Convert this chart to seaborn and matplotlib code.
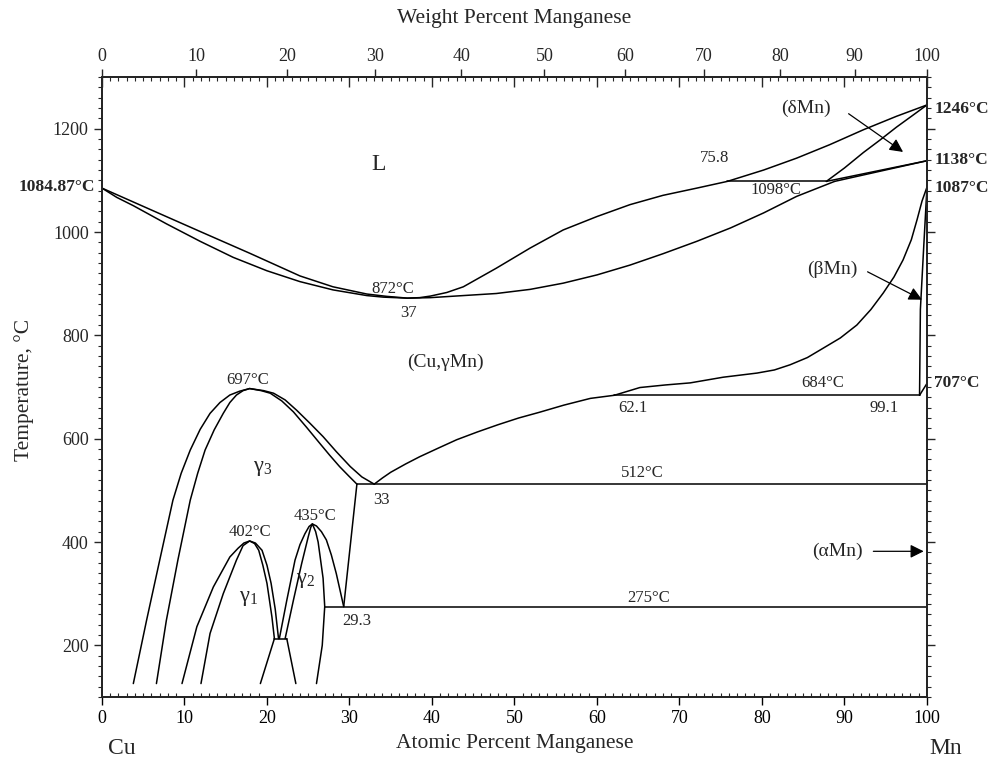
import numpy as np
import pandas as pd
import matplotlib
matplotlib.use('Agg')
import matplotlib.pyplot as plt
from matplotlib.ticker import MultipleLocator, NullFormatter
import seaborn as sns

# ---------------------------------------------------------------
# Cu-Mn phase boundaries (at.% Mn, deg C)
# ---------------------------------------------------------------
liquidus_x = [0, 5.8, 11.9, 17.9, 24, 28, 32.1, 34.5, 36, 37, 38.5, 39.8, 41.8, 43.8, 47.8,
              51.9, 55.9, 60, 64, 68, 72.1, 75.8, 80.2, 84.2, 88.2, 92.3, 96.3, 100]
liquidus_t = [1085, 1044, 1001, 959, 915, 894, 880, 875.5, 873.5, 872, 873, 876, 883, 894, 930,
              969, 1004, 1030, 1053, 1071, 1085, 1098, 1120, 1143, 1169, 1198, 1224, 1246]

solidus_x = [0, 1.8, 3.8, 7.8, 11.9, 15.9, 20, 24, 28, 32.1, 34.1, 37, 39.8, 43.8, 47.8,
             51.9, 55.9, 60, 64, 68, 72.1, 76.2, 80.2, 84.2, 88.8]
solidus_t = [1085, 1067, 1051, 1016, 982, 951, 925, 904, 888, 877, 874, 872, 873, 877, 881,
             889, 901, 917, 936, 958, 982, 1008, 1037, 1069, 1098]

delta_sol_x = [87.8, 90, 92.3, 94.3, 96.3, 98.2, 100]
delta_sol_t = [1098, 1124, 1154, 1178, 1203, 1225, 1246]
gd_upper_x = [87.8, 100]
gd_upper_t = [1098, 1138]
gd_lower_x = [88.8, 100]
gd_lower_t = [1098, 1138]
perit_x = [75.8, 87.8]
perit_t = [1098, 1098]

beta_gam_x = [62.1, 65.2, 68.3, 71.3, 75.3, 79.4, 81.5, 83.4, 85.5, 87.4, 89.5, 91.5,
              93.2, 94.7, 96.0, 97.1, 98.1, 98.8, 99.4, 100]
beta_gam_t = [684, 699, 704, 708, 719, 727, 733, 743, 757, 775, 795, 820,
              850, 882, 913, 946, 985, 1024, 1060, 1087]
beta_sol_x = [100, 99.6, 99.2, 99.1]
beta_sol_t = [1087, 970, 850, 684]
beta_alpha_x = [99.1, 100]
beta_alpha_t = [684, 707]
eut684_x = [62.1, 99.1]
eut684_t = [684, 684]

solvus_x = [33, 34, 35, 36.8, 38.5, 40.8, 43, 45.5, 48, 50.5, 53, 56, 59.2, 62.1]
solvus_t = [512, 524, 535, 551, 565, 582, 598, 613, 627, 640, 651, 665, 678, 684]
line512_x = [30.9, 100]
line512_t = [512, 512]
line275_x = [27.0, 100]
line275_t = [275, 275]
link_x = [30.9, 29.3]
link_t = [512, 275]

g3_outer_x = [3.8, 5.4, 7.0, 8.6, 9.6, 10.7, 11.9, 13.1, 14.3, 15.5, 16.7, 17.9,
              19.6, 20.8, 22.2, 23.6, 25.2, 26.8, 28.4, 30.1, 31.5, 33]
g3_outer_t = [126, 248, 365, 481, 533, 578, 618, 649, 670, 684.5, 692, 697,
              693, 688, 675, 655, 630, 604, 575, 546, 526, 512]
g3_inner_x = [6.6, 7.8, 9.2, 10.7, 11.6, 12.5, 13.6, 14.7, 15.5, 16.3, 17.1, 17.9,
              19.3, 20.4, 21.8, 23.2, 24.8, 26.4, 27.6, 28.8, 29.9, 30.9]
g3_inner_t = [126, 248, 365, 481, 533, 578, 617, 649, 670, 684.5, 693, 697,
              693, 688, 673, 652, 622, 591, 568, 546, 528, 512]

g1_outer_x = [9.7, 11.5, 13.5, 15.5, 16.5, 17.2, 17.9, 18.6, 19.4, 20.0, 20.5, 21.0, 21.4]
g1_outer_t = [126, 236, 313, 371, 388, 398, 402, 398, 384, 355, 320, 270, 213]
g1_inner_x = [12.0, 13.1, 14.7, 16.3, 17.1, 17.9, 18.5, 19.0, 19.5, 20.0, 20.6, 20.9]
g1_inner_t = [126, 223, 300, 365, 393, 402, 397, 384, 355, 320, 255, 213]

g2_outer_x = [21.5, 22.4, 23.4, 24.0, 24.6, 25.1, 25.5, 26.0, 26.6, 27.2, 27.8, 28.4, 29.3]
g2_outer_t = [213, 287, 365, 395, 416, 430, 435, 431, 420, 404, 375, 339, 275]
g2_inner_x = [22.2, 23.2, 24.2, 25.0, 25.3, 25.5, 25.9, 26.2, 26.5, 26.8, 27.0, 26.7, 26.0]
g2_inner_t = [213, 287, 358, 410, 428, 435, 420, 400, 365, 330, 275, 200, 126]

line213_x = [20.9, 22.4]
line213_t = [213, 213]
low_left_x = [20.9, 19.2]
low_left_t = [213, 126]
low_right_x = [22.4, 23.5]
low_right_t = [213, 126]

wt_ticks = [0, 10, 20, 30, 40, 50, 60, 70, 80, 90, 100]
M_CU, M_MN = 63.546, 54.938


def wt_to_at(w):
    w = np.asarray(w, dtype=float)
    a = w / M_MN
    b = (100 - w) / M_CU
    return 100 * a / (a + b)


segments = {
    'liquidus': (liquidus_x, liquidus_t),
    'solidus': (solidus_x, solidus_t),
    'delta_sol': (delta_sol_x, delta_sol_t),
    'gd_upper': (gd_upper_x, gd_upper_t),
    'gd_lower': (gd_lower_x, gd_lower_t),
    'perit': (perit_x, perit_t),
    'beta_gam': (beta_gam_x, beta_gam_t),
    'beta_sol': (beta_sol_x, beta_sol_t),
    'beta_alpha': (beta_alpha_x, beta_alpha_t),
    'eut684': (eut684_x, eut684_t),
    'solvus': (solvus_x, solvus_t),
    'line512': (line512_x, line512_t),
    'line275': (line275_x, line275_t),
    'link': (link_x, link_t),
    'g3_outer': (g3_outer_x, g3_outer_t),
    'g3_inner': (g3_inner_x, g3_inner_t),
    'g1_outer': (g1_outer_x, g1_outer_t),
    'g1_inner': (g1_inner_x, g1_inner_t),
    'g2_outer': (g2_outer_x, g2_outer_t),
    'g2_inner': (g2_inner_x, g2_inner_t),
    'line213': (line213_x, line213_t),
    'low_left': (low_left_x, low_left_t),
    'low_right': (low_right_x, low_right_t),
}

frames = []
for name, (xs, ts) in segments.items():
    frames.append(pd.DataFrame({'seg': name, 'at': xs, 'T': ts}))
df = pd.concat(frames, ignore_index=True)

# ---------------------------------------------------------------
# figure
# ---------------------------------------------------------------
sns.set_theme(style='ticks')
plt.rcParams['font.family'] = ['Liberation Serif', 'DejaVu Serif']
plt.rcParams['mathtext.fontset'] = 'custom'
plt.rcParams['mathtext.rm'] = 'Liberation Serif'
plt.rcParams['mathtext.it'] = 'Liberation Serif:italic'
plt.rcParams['axes.linewidth'] = 1.1

fig = plt.figure(figsize=(9.91, 7.62), dpi=100)
ax = fig.add_axes([0.1029, 0.0853, 0.8325, 0.8136])

sns.lineplot(data=df, x='at', y='T', units='seg', estimator=None, sort=False,
             color='black', lw=1.1, ax=ax, legend=False)

ax.set_xlim(0, 100)
ax.set_ylim(100, 1300)
ax.set_xlabel('')
ax.set_ylabel('')

ax.xaxis.set_major_locator(MultipleLocator(10))
ax.xaxis.set_minor_locator(MultipleLocator(1))
ax.set_yticks([200, 400, 600, 800, 1000, 1200])
ax.yaxis.set_minor_locator(MultipleLocator(20))
ax.tick_params(axis='x', which='major', direction='out', length=6, width=1,
               labelsize=13, colors='black', top=False)
ax.tick_params(axis='x', which='minor', direction='in', length=3, width=0.8, top=False)
ax.tick_params(axis='y', which='major', direction='out', length=6, width=1,
               labelsize=13, left=True, right=True)
ax.tick_params(axis='y', which='minor', direction='out', length=3, width=0.8,
               left=True, right=True)
for s in ax.spines.values():
    s.set_color('black')

# inward atomic-percent ticks along the top
ax_in = ax.twiny()
ax_in.set_xlim(0, 100)
ax_in.xaxis.set_major_locator(MultipleLocator(10))
ax_in.xaxis.set_minor_locator(MultipleLocator(1))
ax_in.xaxis.set_major_formatter(NullFormatter())
ax_in.tick_params(axis='x', which='major', direction='in', length=7, width=1)
ax_in.tick_params(axis='x', which='minor', direction='in', length=3, width=0.8)

# weight-percent scale on top
ax_wt = ax.twiny()
ax_wt.set_xlim(0, 100)
ax_wt.set_xticks(wt_to_at(wt_ticks))
ax_wt.set_xticklabels([str(w) for w in wt_ticks])
ax_wt.xaxis.set_minor_locator(plt.NullLocator())
ax_wt.tick_params(axis='x', which='major', direction='out', length=6, width=1,
                  labelsize=13, pad=3)

# axis titles
fig.text(0.519, 0.976, 'Weight Percent Manganese', ha='center', va='center', fontsize=15.5)
fig.text(0.519, 0.024, 'Atomic Percent Manganese', ha='center', va='center', fontsize=15.5)
fig.text(0.024, 0.488, 'Temperature, °C', ha='center', va='center', rotation=90, fontsize=15.5)
fig.text(0.123, 0.018, 'Cu', ha='center', va='center', fontsize=17)
fig.text(0.954, 0.018, 'Mn', ha='center', va='center', fontsize=17)

# phase labels
ax.text(33.5, 1130, 'L', ha='center', va='center', fontsize=17)
ax.text(41.6, 748, '(Cu,γMn)', ha='center', va='center', fontsize=14)
ax.text(19.5, 543, r'$\mathrm{\gamma}_3$', ha='center', va='center', fontsize=16)
ax.text(17.7, 291, r'$\mathrm{\gamma}_1$', ha='center', va='center', fontsize=16)
ax.text(24.7, 326, r'$\mathrm{\gamma}_2$', ha='center', va='center', fontsize=16)

small = 12
ax.text(17.7, 714, '697°C', ha='center', va='center', fontsize=small)
ax.text(17.9, 419, '402°C', ha='center', va='center', fontsize=small)
ax.text(25.8, 450, '435°C', ha='center', va='center', fontsize=small)
ax.text(30.9, 248, '29.3', ha='center', va='center', fontsize=small)
ax.text(33.9, 481, '33', ha='center', va='center', fontsize=small)
ax.text(65.5, 533, '512°C', ha='center', va='center', fontsize=small)
ax.text(66.2, 291, '275°C', ha='center', va='center', fontsize=small)
ax.text(64.4, 659, '62.1', ha='center', va='center', fontsize=small)
ax.text(94.8, 659, '99.1', ha='center', va='center', fontsize=small)
ax.text(87.4, 708, '684°C', ha='center', va='center', fontsize=small)
ax.text(74.3, 1144, '75.8', ha='center', va='center', fontsize=small)
ax.text(81.7, 1082, '1098°C', ha='center', va='center', fontsize=small)
ax.text(35.3, 890, '872°C', ha='center', va='center', fontsize=small)
ax.text(37.2, 843, '37', ha='center', va='center', fontsize=small)

bold = dict(fontsize=12.5, fontweight='bold', va='center')
ax.text(100.9, 1238, '1246°C', ha='left', **bold)
ax.text(100.9, 1140, '1138°C', ha='left', **bold)
ax.text(100.9, 1086, '1087°C', ha='left', **bold)
ax.text(100.9, 708, '707°C', ha='left', **bold)
ax.text(-0.8, 1088, '1084.87°C', ha='right', **bold)

arrow = dict(arrowstyle='-|>', color='black', lw=0.9, mutation_scale=20,
             shrinkA=0, shrinkB=0)
ax.text(85.3, 1239, '(δMn)', ha='center', va='center', fontsize=14)
ax.annotate('', xy=(97.1, 1155), xytext=(90.5, 1229), arrowprops=arrow)
ax.text(88.5, 927, '(βMn)', ha='center', va='center', fontsize=14)
ax.annotate('', xy=(99.4, 869), xytext=(92.8, 923), arrowprops=arrow)
ax.text(89.2, 382, '(αMn)', ha='center', va='center', fontsize=14)
ax.annotate('', xy=(99.6, 382), xytext=(93.5, 382), arrowprops=arrow)

fig.savefig('out.png', dpi=100)
